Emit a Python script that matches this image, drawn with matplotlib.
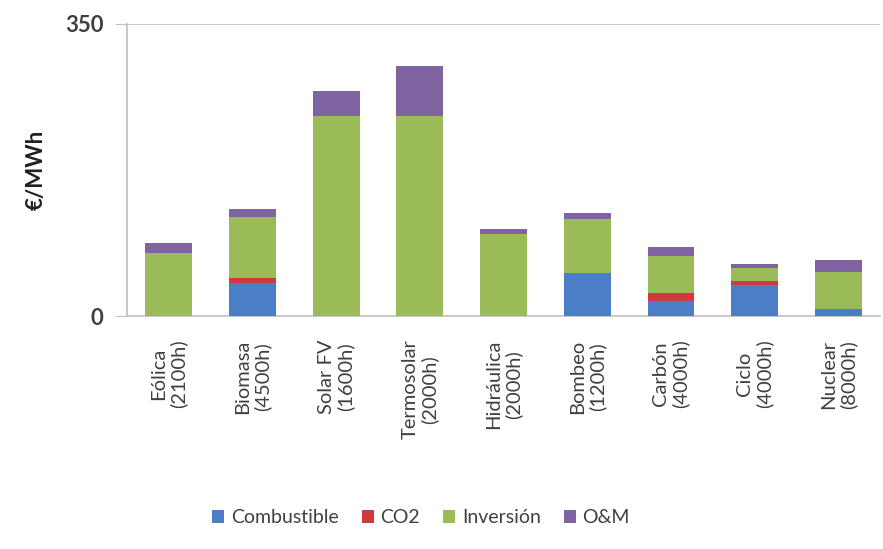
import numpy as np
import matplotlib.pyplot as plt

plt.rcParams['font.family'] = ['Lato', 'DejaVu Sans']

# categorias y costes (EUR/MWh)
tecnologias = ['Eólica\n(2100h)', 'Biomasa\n(4500h)', 'Solar FV\n(1600h)',
               'Termosolar\n(2000h)', 'Hidráulica\n(2000h)', 'Bombeo\n(1200h)',
               'Carbón\n(4000h)', 'Ciclo\n(4000h)', 'Nuclear\n(8000h)']
combustible = [0, 40, 0, 0, 0, 52, 18, 37, 8]
co2 = [0, 5, 0, 0, 0, 0, 10, 5, 0]
inversion = [75, 74, 240, 240, 98, 64, 44, 15, 45]
om = [13, 9, 30, 59, 6, 7, 11, 5, 14]

series = [('Combustible', combustible, '#4A7EC6'),
          ('CO2', co2, '#D03A3F'),
          ('Inversión', inversion, '#9BBB59'),
          ('O&M', om, '#8064A2')]

fig = plt.figure(figsize=(8.83, 5.49), dpi=100)
ax = fig.add_axes([0.1438, 0.4244, 0.853, 0.532])

x = np.arange(len(tecnologias))
base = np.zeros(len(tecnologias))
for nombre, vals, col in series:
    ax.bar(x, vals, 0.56, bottom=base, color=col, label=nombre, zorder=3)
    base += np.array(vals)

ax.set_xlim(-0.5, len(tecnologias) - 0.5)
ax.set_ylim(0, 350)
ax.set_yticks([0, 350])
ax.axhline(350, color='#BFBFBF', lw=1.2, zorder=1)

for s in ['top', 'right']:
    ax.spines[s].set_visible(False)
for s in ['left', 'bottom']:
    ax.spines[s].set_color('#BFBFBF')
    ax.spines[s].set_linewidth(1.2)

ax.tick_params(axis='y', length=9, color='#BFBFBF', labelsize=16,
               labelcolor='#404040', pad=8)
ax.tick_params(axis='x', length=0, labelsize=14.5, labelcolor='#404040', pad=17)
ax.set_xticks(x)
ax.set_xticklabels(tecnologias, rotation=90, va='top', ha='center',
                   linespacing=1.15)
for t in ax.get_yticklabels():
    t.set_fontweight('bold')

ax.set_ylabel('€/MWh', fontsize=16, fontweight='bold', color='#202020',
              labelpad=13)

fig.legend(loc='center', bbox_to_anchor=(0.477, 0.057), ncol=4, frameon=False,
           fontsize=14, handlelength=0.6, handleheight=0.6, handletextpad=0.35,
           columnspacing=1.2, labelcolor='#404040')

fig.savefig('out.png', dpi=100)
